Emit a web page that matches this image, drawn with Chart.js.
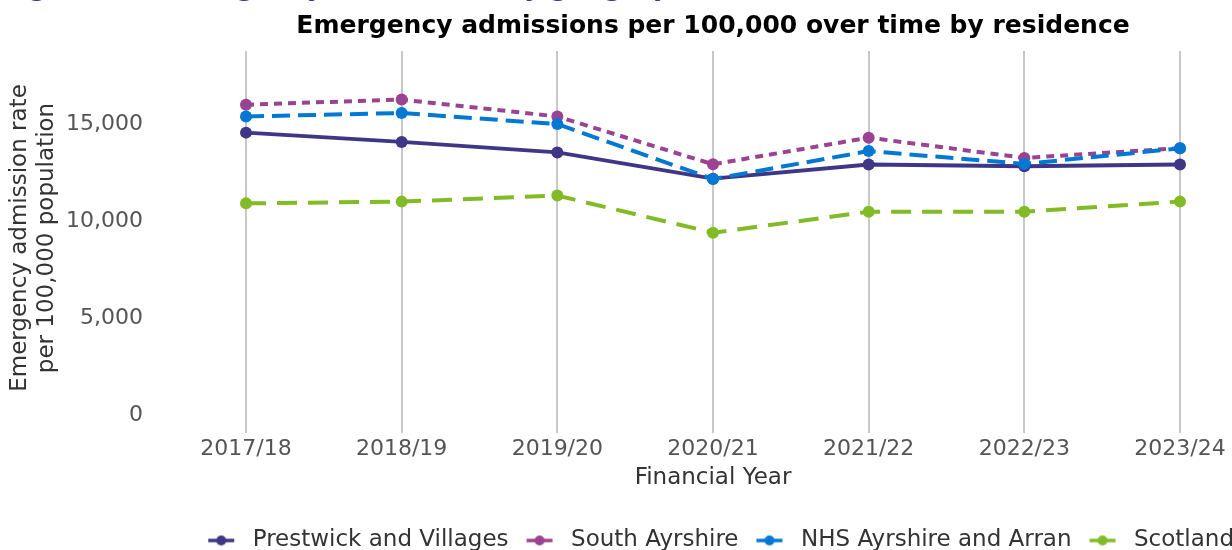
<!DOCTYPE html>
<html>
<head>
<meta charset="utf-8">
<script src="https://cdn.jsdelivr.net/npm/chart.js@4"></script>
<style>
  html, body { margin: 0; padding: 0; background: #fff; overflow: hidden; }
  #wrap { position: relative; width: 1232px; height: 550px; }
  #heading { position: absolute; left: 2px; top: -29px; margin: 0; font: bold 26px "DejaVu Sans", sans-serif; line-height: 30px; color: #3F3685; white-space: nowrap; }
  #c { position: absolute; left: 0; top: 0; }
</style>
</head>
<body>
<div id="wrap">
  <h2 id="heading">Figure 10: Emergency admissions by geographical area</h2>
  <canvas id="c" width="1232" height="550"></canvas>
</div>
<script>
const categories = ["2017/18", "2018/19", "2019/20", "2020/21", "2021/22", "2022/23", "2023/24"];
const seriesNames = ["Prestwick and Villages", "South Ayrshire", "NHS Ayrshire and Arran", "Scotland"];
const prestwick = [14560, 14080, 13540, 12190, 12920, 12830, 12920];
const southAyrshire = [16000, 16260, 15390, 12930, 14300, 13260, 13760];
const nhsAyrshireArran = [15390, 15570, 15000, 12170, 13610, 12950, 13750];
const scotland = [10920, 11010, 11320, 9410, 10490, 10490, 11010];
const yTicks = [0, 5000, 10000, 15000];

const colors = ["#3F3685", "#9B4393", "#0078D4", "#83BB26"];
const dashes = [[], [8, 6], [18, 8], [20, 11]];
const orders = [1, 2, 0, 3];
const FONT = "'DejaVu Sans', sans-serif";

function marker(color) {
  const c = document.createElement('canvas');
  c.width = 35; c.height = 14;
  const g = c.getContext('2d');
  g.strokeStyle = color; g.lineWidth = 3.5;
  g.beginPath(); g.moveTo(2, 7); g.lineTo(28, 7); g.stroke();
  g.fillStyle = color;
  g.beginPath(); g.arc(15, 7, 5, 0, Math.PI * 2); g.fill();
  return c;
}

const allData = [prestwick, southAyrshire, nhsAyrshireArran, scotland];
const datasets = allData.map((d, i) => ({
  label: seriesNames[i],
  data: d,
  borderColor: colors[i],
  backgroundColor: colors[i],
  pointBackgroundColor: colors[i],
  pointBorderColor: colors[i],
  borderWidth: i === 0 ? 3.8 : 4,
  borderDash: dashes[i],
  pointRadius: 6,
  pointBorderWidth: 0,
  tension: 0,
  fill: false,
  order: orders[i]
}));

const boxPlacement = {
  id: 'boxPlacement',
  beforeDraw(chart) {
    const ca = chart.chartArea;
    if (chart.titleBlock) { chart.titleBlock.left = ca.left; chart.titleBlock.right = ca.right; }
    if (chart.legend) { chart.legend.right = 1250; }
  }
};

new Chart(document.getElementById('c'), {
  type: 'line',
  data: { labels: categories, datasets },
  plugins: [boxPlacement],
  options: {
    responsive: false,
    animation: false,
    layout: { padding: { left: 4, right: 52, top: 0, bottom: -12 } },
    plugins: {
      tooltip: { enabled: false },
      title: {
        display: true,
        text: 'Emergency admissions per 100,000 over time by residence',
        color: '#000',
        font: { family: FONT, size: 25, weight: 'bold' },
        padding: { top: 11, bottom: 10 }
      },
      legend: {
        position: 'bottom',
        align: 'end',
        labels: {
          color: '#333',
          font: { family: FONT, size: 23 },
          usePointStyle: true,
          pointStyleWidth: 35,
          padding: 16,
          sort: (a, b) => a.datasetIndex - b.datasetIndex,
          generateLabels: (chart) => {
            const items = Chart.defaults.plugins.legend.labels.generateLabels(chart);
            items.forEach(it => { it.pointStyle = marker(colors[it.datasetIndex]); it.lineWidth = 0; });
            return items;
          }
        }
      }
    },
    scales: {
      x: {
        type: 'category',
        offset: false,
        border: { display: false },
        grid: { display: true, color: '#c8c8c8', lineWidth: 2, tickLength: 8, drawTicks: true },
        ticks: { color: '#555', font: { family: FONT, size: 22 }, padding: 3, maxRotation: 0, autoSkip: false },
        title: { display: true, text: 'Financial Year', color: '#333', font: { family: FONT, size: 23 }, padding: { top: -1, bottom: 21 } }
      },
      y: {
        min: -484,
        max: 18760,
        border: { display: false },
        grid: { display: false, drawTicks: false },
        afterBuildTicks: (s) => { s.ticks = yTicks.map(v => ({ value: v })); },
        afterFit: (s) => { s.width = 242; s.paddingTop = 0; s.paddingBottom = 0; },
        ticks: { color: '#555', font: { family: FONT, size: 22 }, padding: 103 },
        title: { display: true, text: ['Emergency admission rate', 'per 100,000 population'], color: '#333', font: { family: FONT, size: 23 }, padding: { top: 2, bottom: 0 } }
      }
    }
  }
});
</script>
</body>
</html>
